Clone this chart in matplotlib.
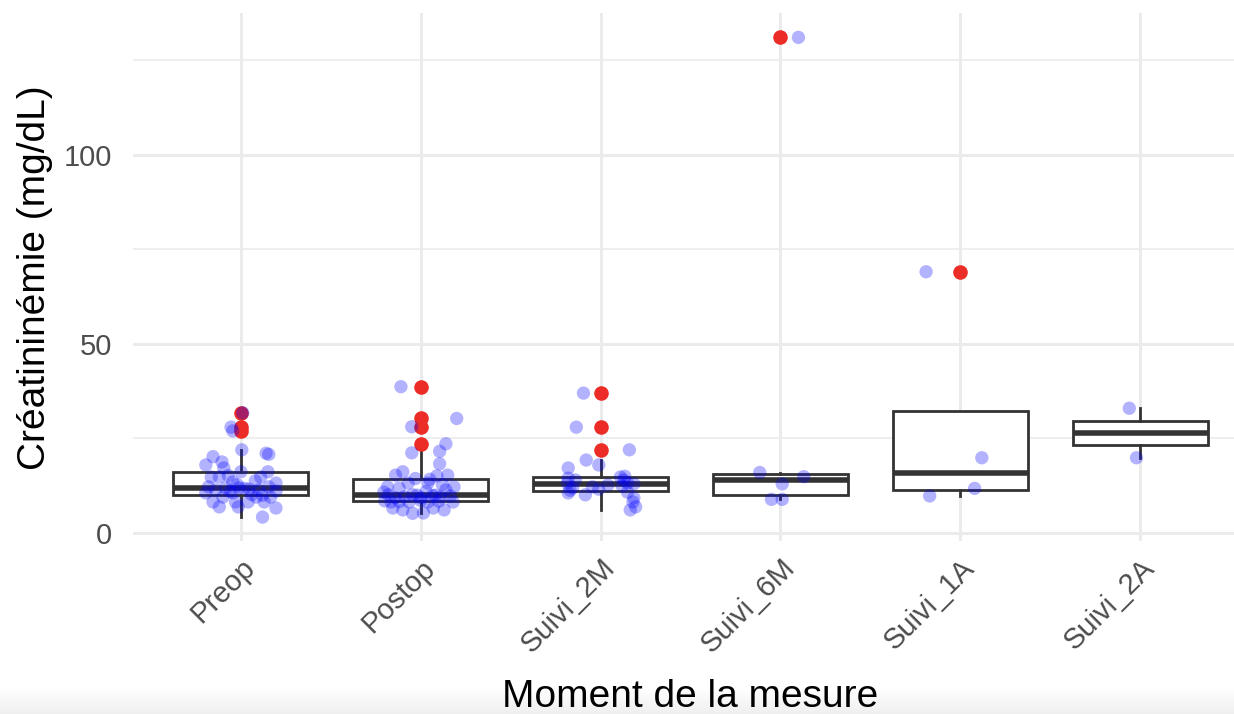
import numpy as np
import matplotlib.pyplot as plt

plt.rcParams['font.family'] = ['Liberation Sans', 'DejaVu Sans']

categories = ['Preop', 'Postop', 'Suivi_2M', 'Suivi_6M', 'Suivi_1A', 'Suivi_2A']

# creatinine values, with the horizontal jitter of each point
preop_values = [31.8, 28.0, 27.0, 22.0, 21.1, 20.8, 20.2, 18.0, 18.8, 17.2,
                16.2, 16.2, 14.8, 14.8, 14.8, 13.5, 13.2, 12.2, 11.9, 11.9,
                12.2, 11.4, 11.6, 11.4, 11.1, 10.6, 10.6, 10.0, 9.5, 9.5,
                9.5, 8.2, 8.2, 8.2, 8.2, 6.9, 6.9, 6.6, 4.2, 10.2,
                11.0, 11.8, 12.8, 13.8, 15.2]
preop_jitter = [0.01, -0.055, -0.045, 0.005, 0.14, 0.155, -0.155, -0.195, -0.105, -0.095,
                0.0, 0.15, -0.165, -0.12, 0.11, -0.045, 0.195, -0.18, -0.085, -0.01,
                0.155, -0.14, 0.045, 0.1, 0.195, -0.195, -0.045, 0.12, -0.1, 0.085,
                0.165, -0.155, -0.03, 0.04, 0.13, -0.12, -0.015, 0.195, 0.12, 0.06,
                -0.06, 0.02, -0.02, 0.08, -0.07]

postop_values = [38.7, 30.3, 28.1, 23.6, 21.6, 21.2, 18.3, 16.2, 15.3, 15.3,
                 15.1, 14.4, 14.2, 13.2, 13.2, 12.2, 12.2, 11.9, 11.4, 10.8,
                 9.8, 9.9, 10.1, 10.1, 9.5, 9.3, 9.3, 8.2, 8.2, 8.2,
                 8.2, 6.6, 6.6, 6.1, 6.1, 5.2, 5.3, 10.0, 10.0, 9.6,
                 11.0, 12.8, 8.3, 8.4, 8.5, 8.6]
postop_jitter = [-0.11, 0.2, -0.05, 0.14, 0.105, -0.05, 0.105, -0.1, -0.14, 0.15,
                 0.09, -0.03, 0.05, -0.07, 0.04, 0.185, -0.185, -0.12, 0.14, -0.205,
                 0.165, 0.065, -0.18, -0.045, 0.11, -0.14, 0.0, -0.165, -0.065, 0.04,
                 0.18, -0.155, 0.07, -0.1, 0.13, -0.045, 0.015, -0.02, 0.08, -0.09,
                 0.03, 0.12, -0.12, 0.1, -0.2, 0.0]

suivi_2m_values = [37.0, 28.0, 22.0, 19.3, 18.0, 17.2, 14.8, 14.5, 14.0, 14.0,
                   13.2, 13.2, 13.0, 12.7, 12.2, 11.9, 11.6, 10.6, 10.1, 10.8,
                   9.3, 8.2, 6.9, 6.1, 11.3, 12.5, 15.0]
suivi_2m_jitter = [-0.095, -0.135, 0.16, -0.08, -0.01, -0.18, 0.11, -0.18, -0.14, 0.13,
                   -0.185, 0.15, 0.185, 0.04, -0.045, -0.155, -0.01, -0.18, -0.085, 0.15,
                   0.185, 0.18, 0.195, 0.165, -0.17, 0.12, 0.135]

suivi_6m_values = [131.1, 16.0, 14.9, 13.0, 8.9, 8.9]
suivi_6m_jitter = [0.1, -0.115, 0.13, 0.01, -0.05, 0.01]

suivi_1a_values = [69.1, 19.9, 11.8, 9.8]
suivi_1a_jitter = [-0.19, 0.12, 0.08, -0.17]

suivi_2a_values = [33.0, 19.9]
suivi_2a_jitter = [-0.06, -0.02]

groups = [preop_values, postop_values, suivi_2m_values,
          suivi_6m_values, suivi_1a_values, suivi_2a_values]
jitters = [preop_jitter, postop_jitter, suivi_2m_jitter,
           suivi_6m_jitter, suivi_1a_jitter, suivi_2a_jitter]

W, H = 1234, 714
fig = plt.figure(figsize=(W / 100, H / 100), dpi=100)

# panel: x from 133px to 1248px (runs past the right edge), y from 13px to 541px
ax = fig.add_axes([133 / W, 1 - 541.1 / H, (1248 - 133) / W, (541.1 - 13.4) / H])

positions = np.arange(1, len(categories) + 1)
edge = '#333333'
ax.boxplot(groups, positions=positions, widths=0.75, whis=1.5,
           patch_artist=True, showcaps=False,
           boxprops=dict(facecolor='white', edgecolor=edge, linewidth=2),
           medianprops=dict(color=edge, linewidth=4),
           whiskerprops=dict(color=edge, linewidth=2),
           flierprops=dict(marker='o', markerfacecolor='#EC2C26',
                           markeredgecolor='none', markersize=10.5))

for pos, vals, jit in zip(positions, groups, jitters):
    ax.scatter(pos + np.array(jit), vals, s=92, color='blue', alpha=0.3,
               edgecolors='none', zorder=4)

all_vals = np.concatenate([np.array(g) for g in groups])
span = all_vals.max() - all_vals.min()
ax.set_ylim(all_vals.min() - 0.05 * span, all_vals.max() + 0.05 * span)
ax.set_xlim(0.4, len(categories) + 0.6)

ax.set_xticks(positions)
ax.set_xticklabels(categories, rotation=45, ha='right', va='top',
                   rotation_mode='anchor')
ax.set_yticks([0, 50, 100])
ax.set_yticks([25, 75, 125], minor=True)

ax.set_axisbelow(True)
ax.grid(which='major', color='#EBEBEB', linewidth=2.1)
ax.grid(which='minor', axis='y', color='#EBEBEB', linewidth=1.2)
for s in ax.spines.values():
    s.set_visible(False)
ax.tick_params(which='both', length=0)
ax.tick_params(axis='y', labelsize=21, labelcolor='#4D4D4D', pad=15)
ax.tick_params(axis='x', labelsize=21, labelcolor='#4D4D4D', pad=9)

ax.set_xlabel('Moment de la mesure', fontsize=28, color='black', va='center')
ax.xaxis.set_label_coords(0.5, -0.295)
ax.set_ylabel('Créatininémie (mg/dL)', fontsize=28, color='black',
              va='center', ha='center')
ax.yaxis.set_label_coords(-0.088, 0.5)

# faint grey band at the very bottom of the screenshot
shade = np.linspace(1.0, 0.94, 20).reshape(-1, 1)
band = fig.add_axes([0, 0, 1, 26 / H], zorder=-1)
band.imshow(np.dstack([shade, shade, shade]), aspect='auto',
            extent=(0, 1, 0, 1), origin='upper')
band.axis('off')

fig.savefig('out.png', dpi=100)
